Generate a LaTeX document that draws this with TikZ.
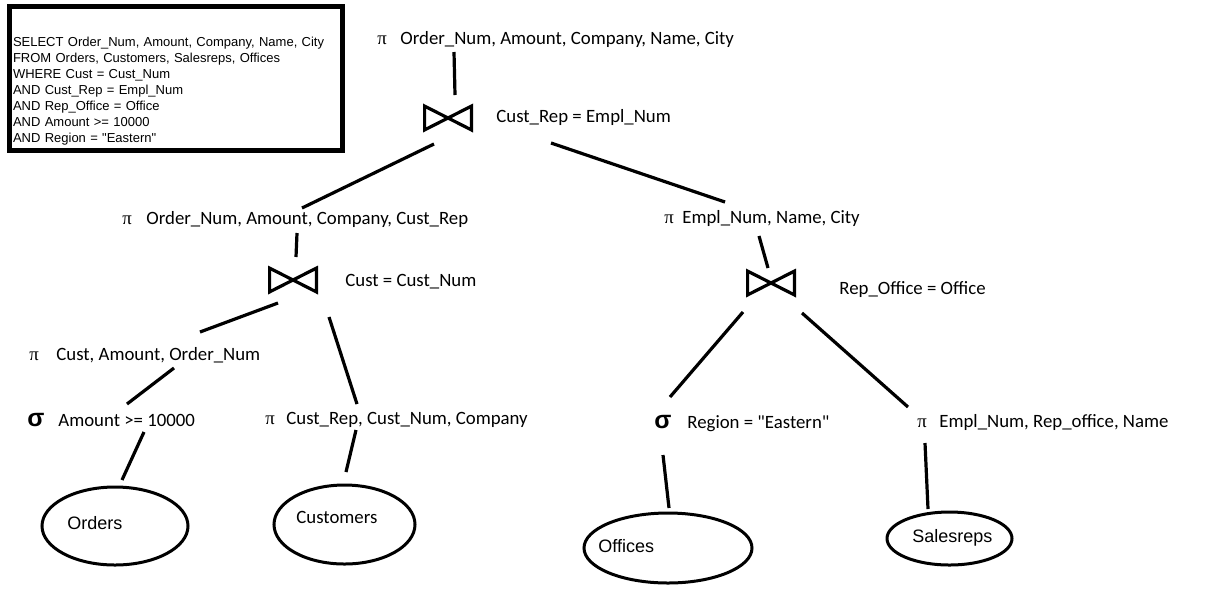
\documentclass[tikz,border=0pt]{standalone}
\usepackage{fontspec}
\newfontfamily\carlitofont{Carlito}
\newfontfamily\arialfont{Liberation Sans}
\newfontfamily\timesfont{Liberation Serif}
\usepackage{tikz}
\usetikzlibrary{shapes.geometric, calc}

\newcommand{\projsym}[1]{\makebox[#1][l]{\timesfont π}}
\newcommand{\selsym}[1]{\makebox[#1][l]{\arialfont\bfseries\fontsize{12.5}{12.5}\selectfont σ}}

\tikzset{
  op/.style={anchor=base west, inner sep=0pt, font=\carlitofont\fontsize{9.4}{11}\selectfont},
  joinop/.style={minimum width=23pt, minimum height=11.5pt, inner sep=0pt},
  relation/.style={ellipse, draw, line width=1.5pt, inner sep=0pt},
  relname/.style={anchor=base west, inner sep=0pt, font=\arialfont\fontsize{9}{11}\selectfont},
  edge/.style={line width=1.6pt},
  sqlbox/.style={draw, line width=2.5pt, minimum width=166.5pt, minimum height=72pt,
    text width=163pt, inner xsep=1.75pt, inner ysep=0pt, align=left,
    font=\arialfont\fontsize{6.5}{8}\selectfont}
}

\begin{document}
\begin{tikzpicture}[x=0.5pt, y=-0.5pt]
\useasboundingbox (0,0) rectangle (1225,612);
%\draw[step=50,gray,very thin] (0,0) grid (1225,612);

% query
\node[sqlbox] (sql) at (176,78.5) {\mbox{}\\[9pt]SELECT Order\_Num, Amount, Company, Name, City\\
FROM Orders, Customers, Salesreps, Offices\\
WHERE Cust = Cust\_Num\\
AND Cust\_Rep = Empl\_Num\\
AND Rep\_Office = Office\\
AND Amount >= 10000\\
AND Region = "Eastern"};

% operators
\node[op] (top) at (377,44) {\projsym{11.5pt}Order\_Num, Amount, Company, Name, City};
\node[joinop] (j1) at (448,118) {};
\node[op] (c1) at (496,122) {Cust\_Rep = Empl\_Num};
\node[op] (pl) at (122,224) {\projsym{12pt}Order\_Num, Amount, Company, Cust\_Rep};
\node[op] (pr) at (664,223) {\projsym{9pt}Empl\_Num, Name, City};
\node[joinop] (j2) at (293,280) {};
\node[op] (c2) at (345,286) {Cust = Cust\_Num};
\node[joinop] (j3) at (771,283) {};
\node[op] (c3) at (839,294) {Rep\_Office = Office};
\node[op] (pc) at (29,360) {\projsym{13.5pt}Cust, Amount, Order\_Num};
\node[op] (s1) at (27,426) {\selsym{15.5pt}Amount >= 10000};
\node[op] (pcu) at (265,424) {\projsym{10.5pt}Cust\_Rep, Cust\_Num, Company};
\node[op] (s2) at (654,428) {\selsym{16.5pt}Region = "Eastern"};
\node[op] (pe) at (917,427) {\projsym{11pt}Empl\_Num, Rep\_office, Name};

\foreach \j in {j1,j2,j3}
  \draw[edge, line join=miter] (\j.north west) -- (\j.south east) -- (\j.north east) -- (\j.south west) -- cycle;

% relations
\node[relation, minimum width=73pt, minimum height=39pt] (orders) at (115,526) {};
\node[relname] (orders-t) at (67,529) {Orders};
\node[relation, minimum width=70.5pt, minimum height=39.5pt] (customers) at (344.5,524.5) {};
\node[relname, font=\carlitofont\fontsize{9.4}{11}\selectfont] (customers-t) at (296,523) {Customers};
\node[relation, minimum width=84pt, minimum height=35pt] (offices) at (668,548) {};
\node[relname] (offices-t) at (598,552) {Offices};
\node[relation, minimum width=62.5pt, minimum height=26.5pt] (salesreps) at (949.5,538.5) {};
\node[relname] (salesreps-t) at (912,542) {Salesreps};

% tree
\draw[edge] ($(top.base west)+(77,8)$) -- ($(j1)+(7,-23)$);
\draw[edge] ($(j1)+(-14,26)$) -- ($(pl.base west)+(180,-16)$);
\draw[edge] ($(j1)+(103,25)$) -- ($(pr.base west)+(61,-21)$);
\draw[edge] ($(pl.base west)+(175,9)$) -- ($(j2)+(3,-23)$);
\draw[edge] ($(j2)+(-15,23)$) -- ($(pc.base west)+(171,-28)$);
\draw[edge] ($(j2)+(36,37)$) -- ($(pcu.base west)+(92,-20)$);
\draw[edge] ($(pc.base west)+(145,8)$) -- ($(s1.base west)+(100,-22)$);
\draw[edge] ($(s1.base west)+(117,6)$) -- ($(orders)+(7,-46)$);
\draw[edge] ($(pcu.base west)+(91,6)$) -- ($(customers)+(1.5,-52.5)$);
\draw[edge] ($(pr.base west)+(95,13)$) -- ($(j3)+(-3,-15)$);
\draw[edge] ($(j3)+(-28,29)$) -- ($(s2.base west)+(16,-31)$);
\draw[edge] ($(j3)+(31,30)$) -- ($(pe.base west)+(-9,-20)$);
\draw[edge] ($(s2.base west)+(9,27)$) -- ($(offices)+(1,-40)$);
\draw[edge] ($(pe.base west)+(8,16)$) -- ($(salesreps)+(-21.5,-29.5)$);
\end{tikzpicture}
\end{document}
